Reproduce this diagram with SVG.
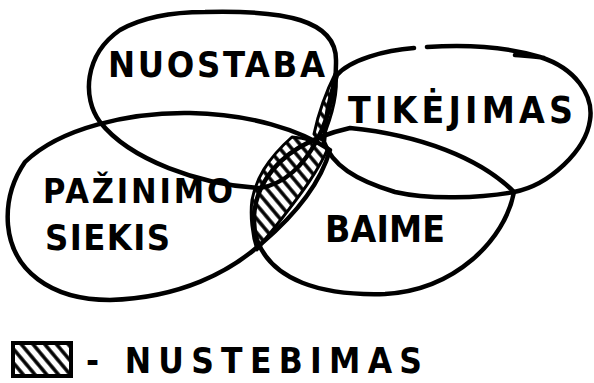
<svg xmlns="http://www.w3.org/2000/svg" width="594" height="383" viewBox="0 0 594 383">
<defs>
<style>
.sh{fill:none;stroke:#000;stroke-width:4.5;stroke-linecap:round;stroke-linejoin:round}
.lb{font-family:"DejaVu Sans Condensed","DejaVu Sans","Liberation Sans",sans-serif;font-weight:bold;fill:#000}
.ht{fill:url(#hatch);stroke:#000;stroke-width:3;stroke-linejoin:round}
</style>
<pattern id="hatch" patternUnits="userSpaceOnUse" width="9" height="9" patternTransform="rotate(-40)">
<rect width="9" height="9" fill="#fff"/>
<line x1="2" y1="0" x2="2" y2="9" stroke="#000" stroke-width="3.5"/>
</pattern>
</defs>
<rect width="594" height="383" fill="#fff"/>
<g id="hatched">
<path class="ht" d="M292,137 C305,138 318,142 328,148 C318,172 300,195 283,217 C273,230 264,240 257,250 C252,235 250,215 252,200 C256,180 266,160 292,137 Z"/>
<path class="ht" d="M336,72 C338,90 334,112 322,140 C318,138 315,136 314,134 C318,115 326,92 336,72 Z"/>
</g>
<g id="connectors">
<path id="nuostaba-shape" class="sh" d="M205,12 C285,10 336,20 336,60 C337,110 310,180 260,188 C200,185 130,160 100,122 C82,98 84,55 120,30 C145,16 175,12 205,12 Z"/>
<path id="tikejimas-shape" class="sh" d="M337,75 C350,60 385,50 414,48 M427,47 C470,44 510,48 540,57 C575,68 594,95 590,120 C586,150 550,185 514,192 C480,198 430,200 395,192 C355,180 332,165 324,142 C325,118 330,95 337,75 M515,55 C525,56 535,56 544,58"/>
<path id="pazinimo-shape" class="sh" d="M25,162 C60,128 130,112 190,113 C250,114 300,130 330,150 C320,185 295,215 262,243 C230,272 180,298 110,300 C50,300 12,270 8,225 C6,200 14,178 25,162 Z"/>
<path id="baime-shape" class="sh" d="M350,128 C420,135 480,158 514,192 C505,240 455,290 385,294 C320,296 272,280 257,240 C246,205 262,148 350,128 Z"/>
</g>
<g id="nuostaba"><text class="lb" x="108" y="77" font-size="36" textLength="217" lengthAdjust="spacing">NUOSTABA</text></g>
<g id="tikejimas"><text class="lb" x="348" y="123" font-size="37" textLength="225" lengthAdjust="spacing">TIKĖJIMAS</text></g>
<g id="pazinimo-siekis"><text class="lb" x="43" y="203" font-size="34" textLength="190" lengthAdjust="spacing">PAŽINIMO</text><text class="lb" x="45" y="250" font-size="36" textLength="125" lengthAdjust="spacing">SIEKIS</text></g>
<g id="baime"><text class="lb" x="325" y="242" font-size="37" textLength="120" lengthAdjust="spacing">BAIME</text></g>
<g id="legend">
<rect x="13" y="343" width="58" height="33" fill="url(#hatch)" stroke="#000" stroke-width="4"/>
<text class="lb" x="86" y="373" font-size="35" textLength="336" lengthAdjust="spacing">- NUSTEBIMAS</text>
</g>
</svg>
